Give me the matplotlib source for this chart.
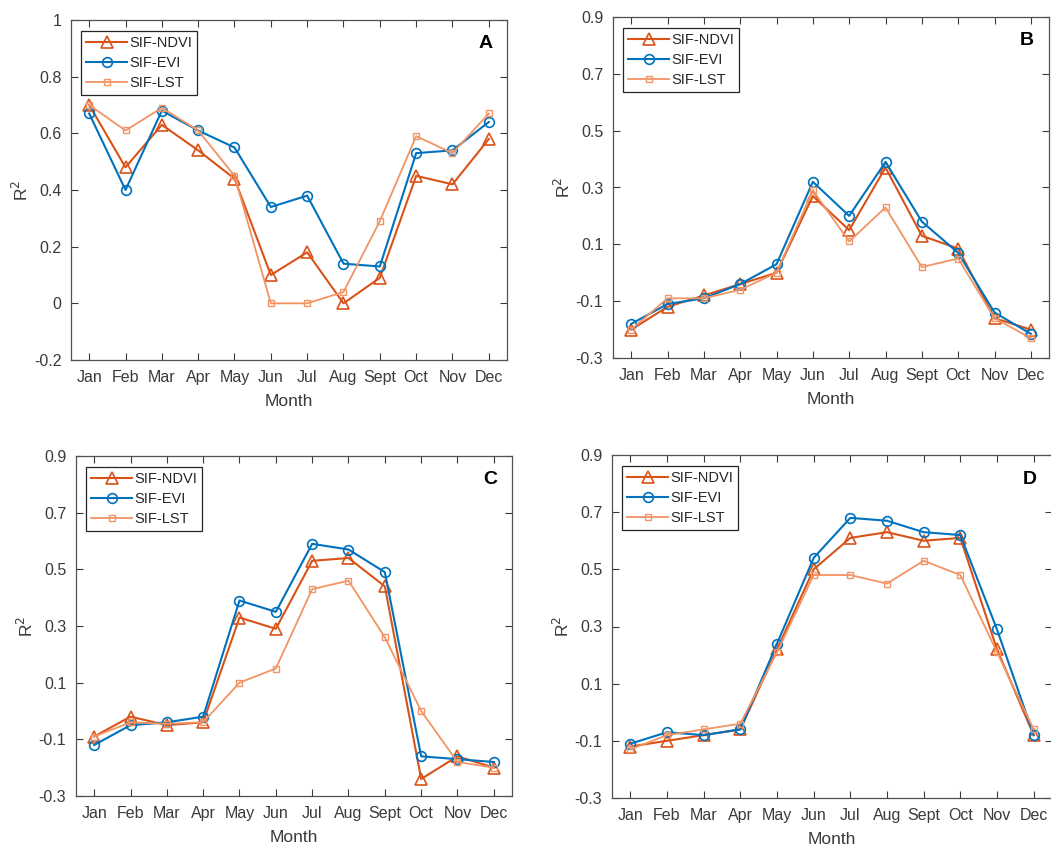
import matplotlib
matplotlib.use('Agg')
import matplotlib.pyplot as plt

plt.rcParams['font.family'] = ['Liberation Sans', 'DejaVu Sans']

months = ['Jan', 'Feb', 'Mar', 'Apr', 'May', 'Jun', 'Jul', 'Aug', 'Sept', 'Oct', 'Nov', 'Dec']

# panel A
ndvi_a = [0.70, 0.48, 0.63, 0.54, 0.44, 0.10, 0.18, 0.00, 0.09, 0.45, 0.42, 0.58]
evi_a = [0.67, 0.40, 0.68, 0.61, 0.55, 0.34, 0.38, 0.14, 0.13, 0.53, 0.54, 0.64]
lst_a = [0.70, 0.61, 0.69, 0.61, 0.45, 0.00, 0.00, 0.04, 0.29, 0.59, 0.53, 0.67]
# panel B
ndvi_b = [-0.20, -0.12, -0.08, -0.04, 0.00, 0.27, 0.15, 0.37, 0.13, 0.085, -0.16, -0.20]
evi_b = [-0.18, -0.11, -0.09, -0.04, 0.03, 0.32, 0.20, 0.39, 0.18, 0.07, -0.14, -0.215]
lst_b = [-0.20, -0.09, -0.09, -0.06, 0.00, 0.29, 0.11, 0.23, 0.02, 0.05, -0.16, -0.23]
# panel C
ndvi_c = [-0.09, -0.02, -0.05, -0.04, 0.33, 0.29, 0.53, 0.54, 0.44, -0.24, -0.16, -0.20]
evi_c = [-0.12, -0.05, -0.04, -0.02, 0.39, 0.35, 0.59, 0.57, 0.49, -0.16, -0.17, -0.18]
lst_c = [-0.09, -0.04, -0.045, -0.04, 0.10, 0.15, 0.43, 0.46, 0.26, 0.00, -0.18, -0.20]
# panel D
ndvi_d = [-0.12, -0.10, -0.08, -0.06, 0.22, 0.50, 0.61, 0.63, 0.60, 0.61, 0.22, -0.08]
evi_d = [-0.11, -0.07, -0.08, -0.06, 0.24, 0.54, 0.68, 0.67, 0.63, 0.62, 0.29, -0.08]
lst_d = [-0.13, -0.08, -0.06, -0.04, 0.21, 0.48, 0.48, 0.45, 0.53, 0.48, 0.21, -0.06]

ticks_a = [-0.2, 0, 0.2, 0.4, 0.6, 0.8, 1]
ticks_bcd = [-0.3, -0.1, 0.1, 0.3, 0.5, 0.7, 0.9]

W, H = 1051, 847
fig = plt.figure(figsize=(W / 100, H / 100), dpi=100)

def add_ax(left, right, top, bottom):
    return fig.add_axes([left / W, 1 - bottom / H, (right - left) / W, (bottom - top) / H])

panels = [
    (add_ax(71, 507, 20, 360), 'A', ndvi_a, evi_a, lst_a, ticks_a, ['-0.2', '0', '0.2', '0.4', '0.6', '0.8', '1']),
    (add_ax(613, 1049, 17, 358), 'B', ndvi_b, evi_b, lst_b, ticks_bcd, None),
    (add_ax(76, 512, 456, 796), 'C', ndvi_c, evi_c, lst_c, ticks_bcd, None),
    (add_ax(612, 1052, 455, 798), 'D', ndvi_d, evi_d, lst_d, ticks_bcd, None),
]

c_ndvi = '#D95319'
c_evi = '#0072BD'
c_lst = '#F29463'
axcol = '#3a3a3a'
x = list(range(1, 13))

for ax, letter, ndvi, evi, lst, yt, ylabels in panels:
    ax.plot(x, ndvi, color=c_ndvi, lw=1.5, marker='^', ms=8, mfc='none', mew=1.2, label='SIF-NDVI')
    ax.plot(x, evi, color=c_evi, lw=1.5, marker='o', ms=7, mfc='none', mew=1.2, label='SIF-EVI')
    ax.plot(x, lst, color=c_lst, lw=1.3, marker='s', ms=5, mfc='none', mew=1.0, label='SIF-LST')
    ax.set_xlim(0.5, 12.5)
    ax.set_ylim(yt[0], yt[-1])
    ax.set_xticks(x)
    ax.set_xticklabels(months)
    ax.set_yticks(yt)
    if ylabels:
        ax.set_yticklabels(ylabels)
    else:
        ax.set_yticklabels(['%.1f' % v for v in yt])
    ax.tick_params(direction='in', top=True, right=True, length=5, width=0.8,
                   labelsize=11.5, colors=axcol, pad=7)
    for s in ax.spines.values():
        s.set_color('#505050')
        s.set_linewidth(0.9)
    ax.set_xlabel('Month', fontsize=12.5, color=axcol, labelpad=7)
    ax.set_ylabel('R$^2$', fontsize=12.5, color=axcol, labelpad=2)
    ax.text(0.95, 0.93, letter, transform=ax.transAxes, fontsize=14, fontweight='bold',
            ha='center', va='center', color='black')
    leg = ax.legend(loc='upper left', bbox_to_anchor=(0.023, 0.968), borderaxespad=0,
                    fancybox=False, framealpha=1, edgecolor='#262626', fontsize=10.5,
                    handlelength=2.8, handletextpad=0.15, labelspacing=0.4,
                    borderpad=0.35)
    leg.get_frame().set_linewidth(0.9)
    for t in leg.get_texts():
        t.set_color('#262626')

fig.savefig('out.png', dpi=100)
